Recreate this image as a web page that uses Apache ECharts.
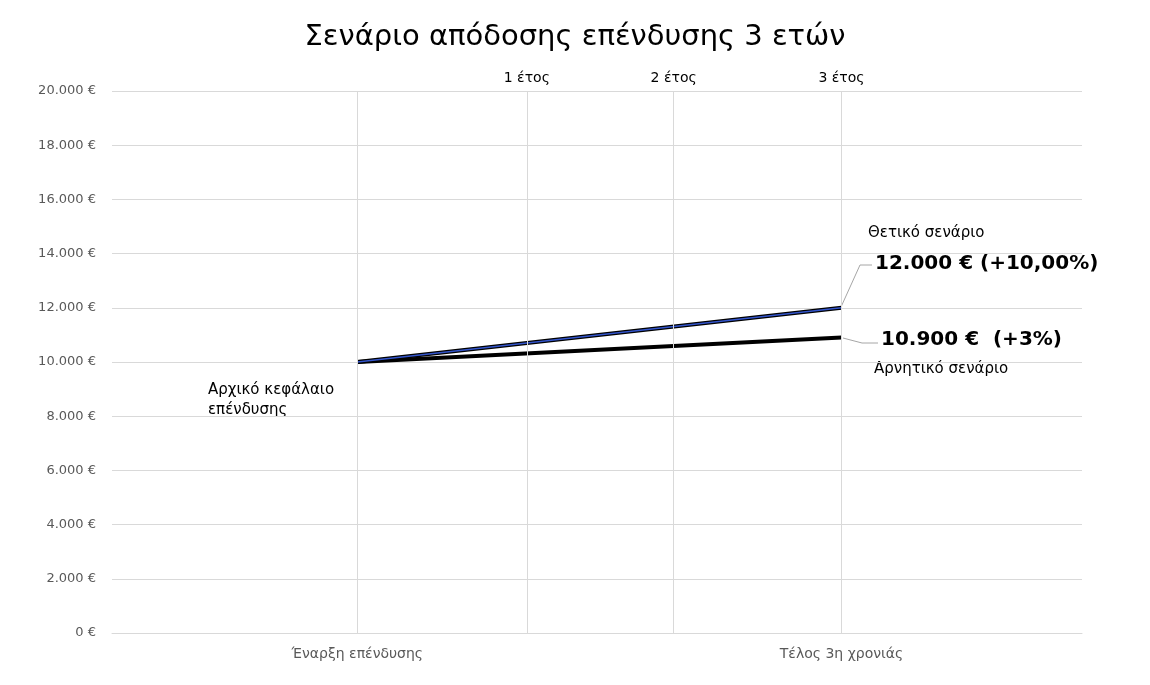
<!DOCTYPE html>
<html><head><meta charset="utf-8">
<script src="https://cdn.jsdelivr.net/npm/echarts@6/dist/echarts.min.js"></script>
<style>body{margin:0;background:#fff}#main{width:1150px;height:685px}</style>
</head><body><div id="main"></div>
<script>
// x positions in years from the start of the investment
var yearMarks = [0, 1.05, 1.96, 3];
var topLabels = ['', '1 έτος', '2 έτος', '3 έτος'];
var bottomLabels = ['Έναρξη επένδυσης', '', '', 'Τέλος 3η χρονιάς'];
var positiveValues = [[0, 10000], [3, 12000]];
var negativeValues = [[0, 10000], [3, 10900]];

var myChart = echarts.init(document.getElementById('main'));
var font = 'Verdana, "DejaVu Sans", sans-serif';

myChart.setOption({
    backgroundColor: '#fff',
    animation: false,
    title: {
        text: 'Σενάριο απόδοσης επένδυσης 3 ετών',
        left: 'center', top: 18,
        textStyle: { fontFamily: font, fontSize: 29, fontWeight: 'normal', color: '#000' }
    },
    grid: { left: 112, right: 68, top: 91, bottom: 52 },
    xAxis: {
        type: 'value', min: -1.52, max: 4.49,
        axisLabel: { show: false }, axisTick: { show: false },
        axisLine: { show: true, onZero: false, lineStyle: { color: '#d9d9d9' } },
        splitLine: { show: false }
    },
    yAxis: {
        type: 'value', min: 0, max: 20000, interval: 2000,
        axisLine: { show: false }, axisTick: { show: false },
        axisLabel: {
            color: '#595959', fontFamily: font, fontSize: 13, margin: 16,
            formatter: function (v) { return v.toLocaleString('de-DE') + ' €'; }
        },
        splitLine: { lineStyle: { color: '#d9d9d9' } }
    },
    series: [
        {
            type: 'line', data: [], silent: true,
            markLine: {
                symbol: 'none', silent: true,
                lineStyle: { color: '#d9d9d9', type: 'solid', width: 1 },
                label: { show: false },
                data: yearMarks.map(function (x, i) {
                    return {
                        xAxis: x,
                        label: {
                            show: true, position: 'end', formatter: topLabels[i],
                            color: '#000', fontFamily: font, fontSize: 14, distance: 6
                        }
                    };
                }).concat(yearMarks.map(function (x, i) {
                    return {
                        xAxis: x,
                        label: {
                            show: true, position: 'start', formatter: bottomLabels[i],
                            color: '#595959', fontFamily: font, fontSize: 14, distance: 14
                        }
                    };
                }))
            }
        },
        {
            name: 'neg', type: 'line', data: negativeValues, showSymbol: false,
            lineStyle: { color: '#000', width: 4 }
        },
        {
            name: 'posOutline', type: 'line', data: positiveValues, showSymbol: false,
            lineStyle: { color: '#000', width: 4 }
        },
        {
            name: 'pos', type: 'line', data: positiveValues, showSymbol: false,
            lineStyle: { color: '#3355cc', width: 1.5 }
        }
    ],
    graphic: [
        { type: 'text', left: 208, top: 380, style: { text: 'Αρχικό κεφάλαιο\nεπένδυσης', font: '15px ' + font, fill: '#000', lineHeight: 20 } },
        { type: 'text', left: 868, top: 226, style: { text: 'Θετικό σενάριο', font: '15px ' + font, fill: '#000' } },
        { type: 'text', left: 875, top: 254, style: { text: '12.000 € (+10,00%)', font: 'bold 20px ' + font, fill: '#000' } },
        { type: 'text', left: 881, top: 330, style: { text: '10.900 €  (+3%)', font: 'bold 20px ' + font, fill: '#000' } },
        { type: 'text', left: 874, top: 362, style: { text: 'Αρνητικό σενάριο', font: '15px ' + font, fill: '#000' } },
        { type: 'polyline', shape: { points: [[841, 307], [860, 265], [872, 265]] }, style: { stroke: '#a6a6a6', lineWidth: 1, fill: null } },
        { type: 'polyline', shape: { points: [[843, 338], [862, 343], [878, 343]] }, style: { stroke: '#a6a6a6', lineWidth: 1, fill: null } }
    ]
});
</script>
</body></html>
